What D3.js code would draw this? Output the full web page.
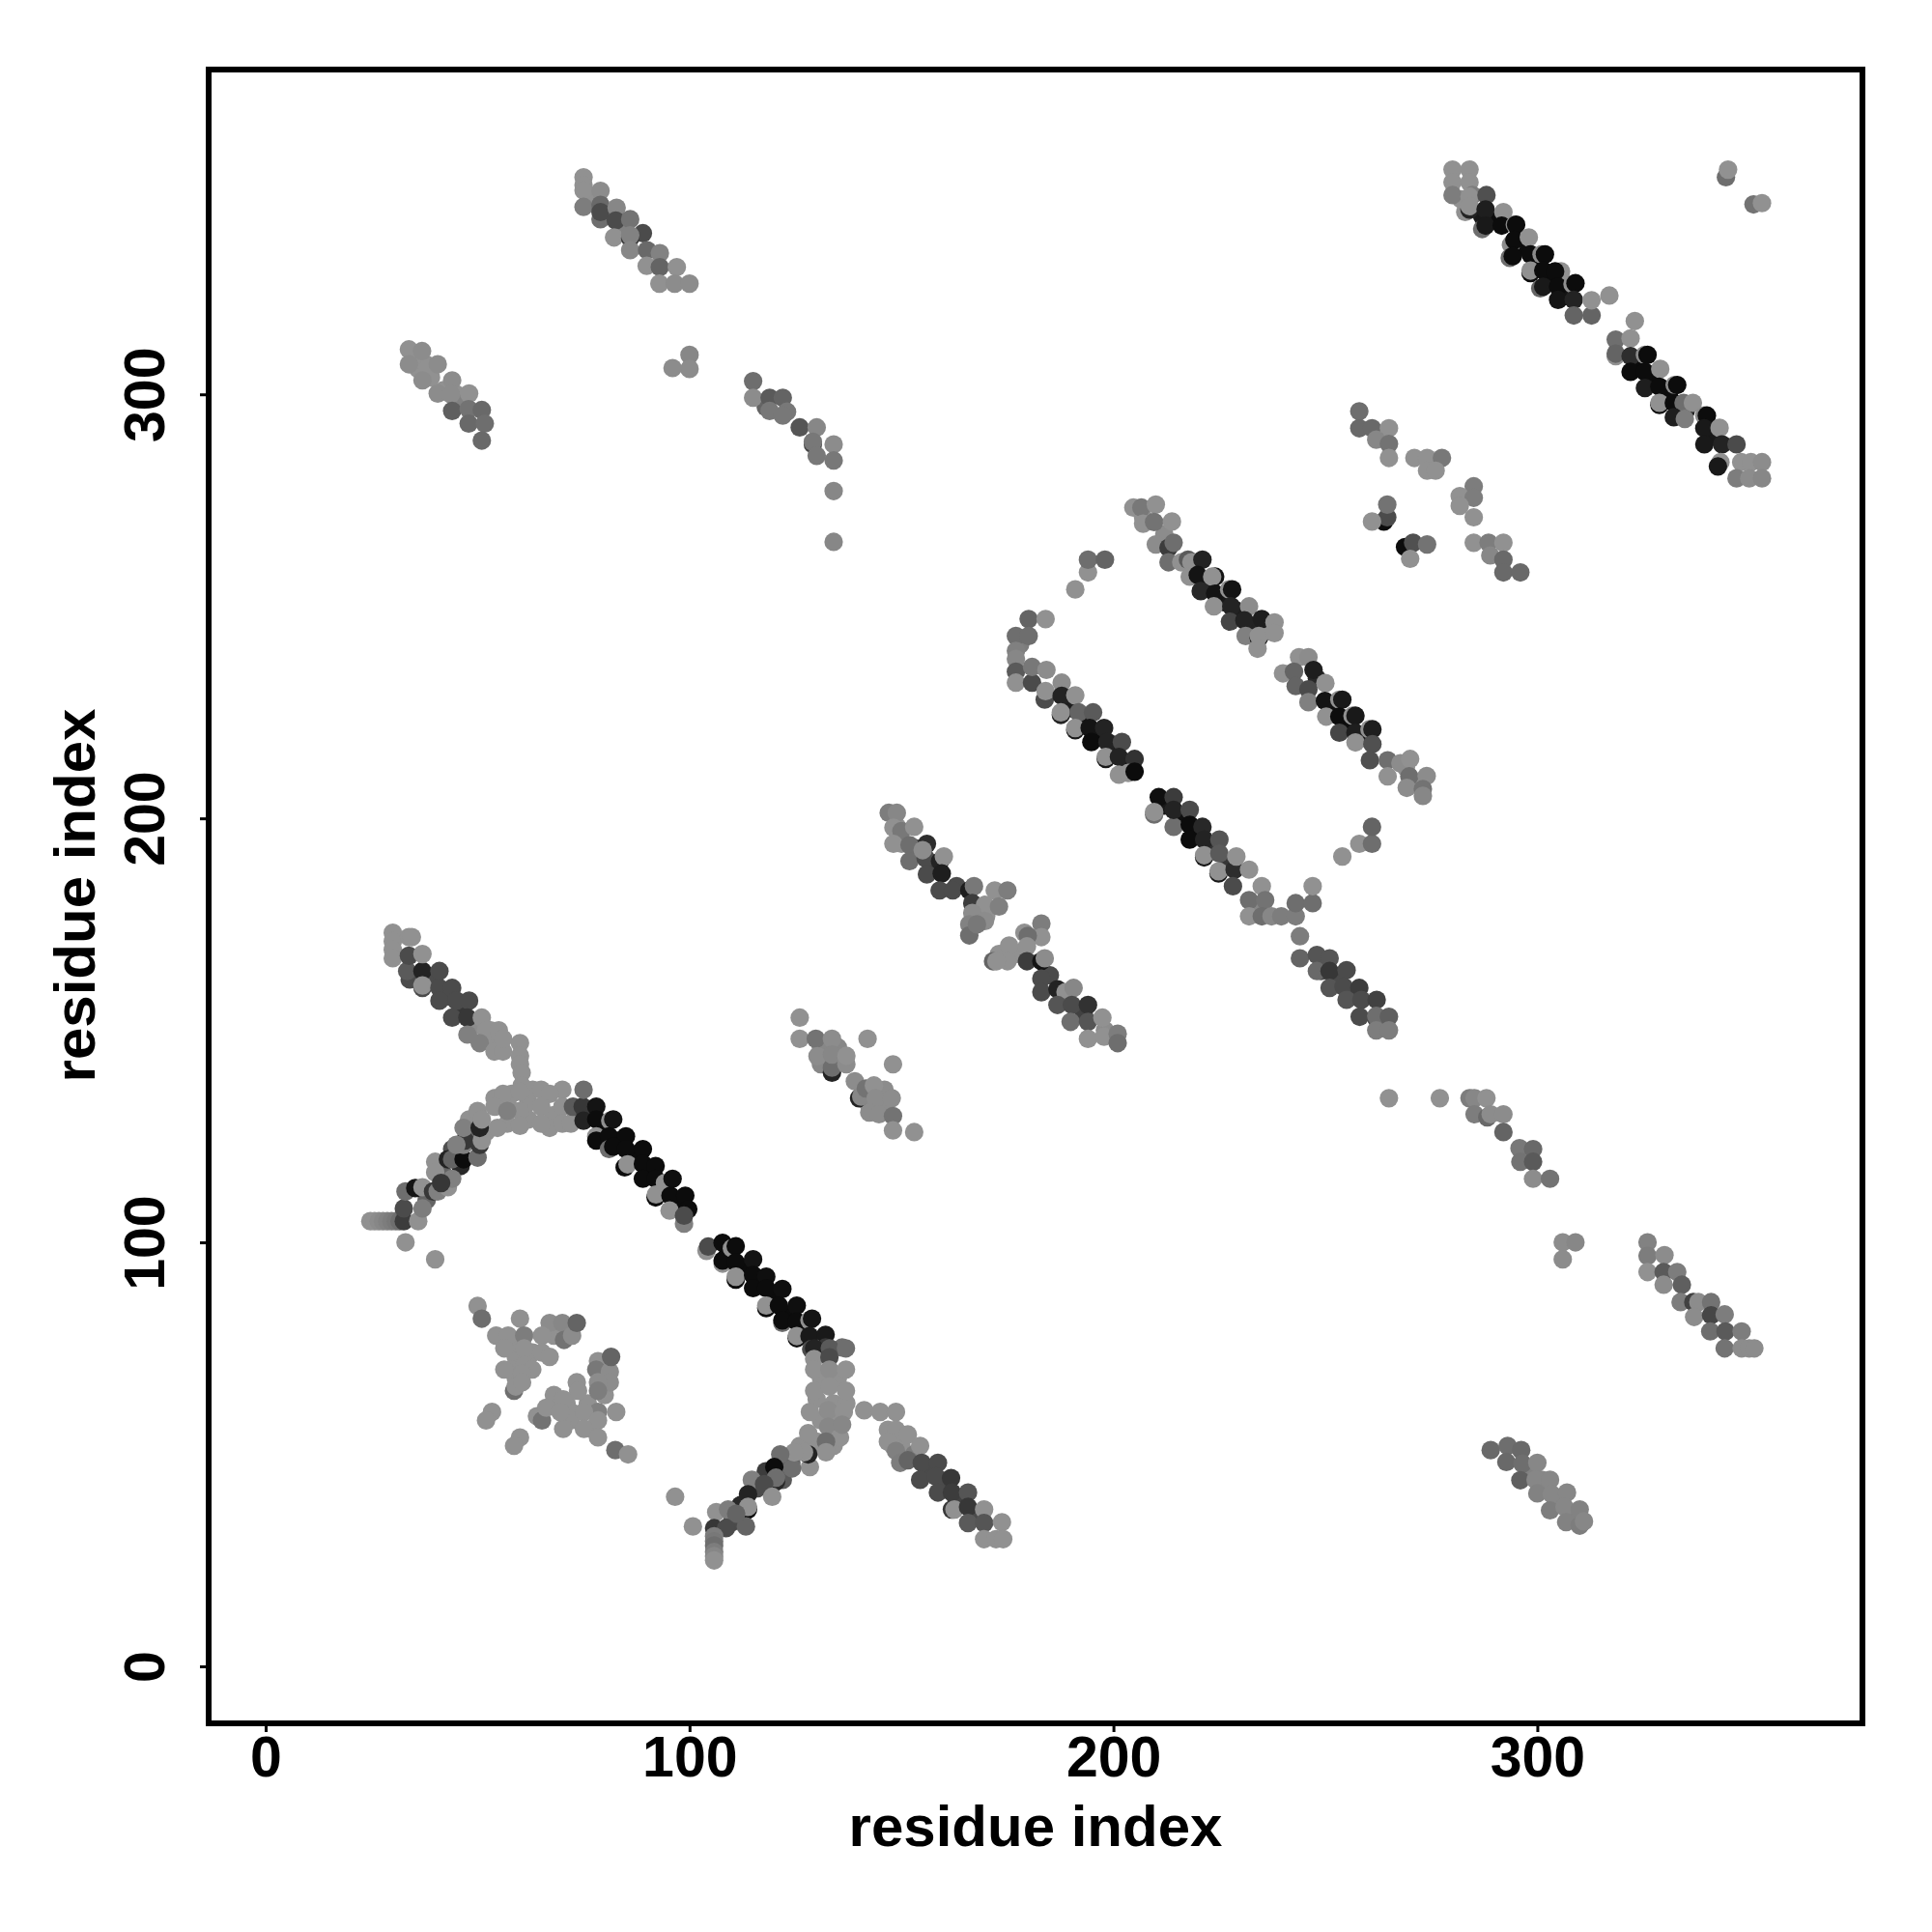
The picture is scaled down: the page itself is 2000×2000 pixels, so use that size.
<!DOCTYPE html>
<html><head><meta charset="utf-8">
<script src="https://cdn.jsdelivr.net/npm/d3@7"></script>
<style>html,body{margin:0;padding:0;background:#fff}svg{display:block}</style>
</head><body><svg id="chart" width="2000" height="2000"></svg>
<script>
// each point: [residue i, residue j, grey level]
const xTicks=[0,100,200,300];
const yTicks=[0,100,200,300];
const axisLabel="residue index";

const fillLight=[[57,133,145],[62,133,145],[68,130,145],[62,129,145],[57,128,145],[67,127,145],[48,129,145],[52,126,145],[63,136,145],[58,135,145],[73,131,145],[131,68,145],[135,68,145],[134,62,145],[130,63,145],[131,58,145],[134,52,145],[130,53,145],[137,62,145],[135,59,145],[126,52,145],[150,52,145],[153,50,125],[148,52,145],[59,73,145],[58,70,145],[59,68,145],[62,73,145],[63,74,145],[71,62,145],[68,62,145],[72,58,145],[76,62,145],[77,56,145],[80,64,145],[79,68,145],[68,64,145],[64,59,145],[72,60,145],[60,76,145],[68,78,145],[36,306,145],[39,304,145],[42,301,145],[45,300,145],[38,307,145],[46,298,130],[35,309,145],[302,42,135],[305,39,135],[308,35,130],[298,46,130],[301,44,135],[304,40,135],[135,146,135],[131,146,135],[139,138,140],[145,132,140],[146,136,140],[142,133,140],[135,143,135],[131,142,135],[146,131,140],[54,147,145],[53,150,145],[49,151,140],[77,346,145],[84,340,130],[283,343,145],[282,346,145],[178,241,125],[207,271,145],[212,267,140],[236,244,145],[269,212,145],[271,208,145],[173,168,145],[177,168,145],[170,177,145],[168,176,145],[235,178,135],[150,194,145],[149,198,145],[198,150,140]];
const fillDark=[[34,162,75],[39,162,75],[43,158,75],[46,155,55],[38,110,100],[42,116,100],[46,118,40],[48,125,100],[44,122,80],[80,127,12],[83,124,12],[87,120,12],[90,116,12],[94,113,12],[97,109,12],[109,97,12],[113,94,12],[117,90,12],[120,87,12],[124,83,12],[127,79,25],[116,42,75],[118,46,60],[122,44,90],[124,48,100],[112,38,40],[110,34,75],[156,46,75],[160,42,75],[163,39,65],[167,36,75],[290,341,12],[296,335,12],[300,331,12],[303,327,12],[306,323,20],[324,307,12],[327,303,12],[331,300,12],[335,296,35],[341,290,25],[153,193,60],[157,188,60],[163,184,75],[168,179,80],[185,163,75],[189,157,70],[193,154,65],[190,226,30],[193,223,25],[196,219,15],[200,216,30],[203,212,25],[212,203,25],[216,200,15],[220,196,20],[223,193,50],[227,189,55],[222,255,25],[226,251,25],[229,249,30],[233,245,35],[248,233,40],[252,226,15],[255,222,15],[259,219,30],[249,164,75],[253,162,75],[257,158,70],[287,342,25],[89,338,75],[118,297,100]];

const helix1Up=[[30,173,145],[30,171,145],[30,169,145],[30,167,145],[33.8,172,145],[34.5,172,145],[33.4,164,90],[33.8,167.6,75],[37,164,35],[37,160,75],[37,160.6,145],[37,168,145],[41,164,75],[41,160,75],[41,157,75],[44,160,75],[45,157,75],[48,157,75],[44,153,75],[47.6,153,55],[47.6,149,128],[51,153,145],[52,150,145],[55,150,145],[50.5,147,128],[54,145,145],[56,145,145],[56,148,145],[60,147,145],[60,144,145],[60,142,145],[60.4,140,145],[60.4,137,145]];
const helix1Mid=[[54,134,145],[56,135,145],[60,135.5,145],[65,136,145],[70,136,145],[67,135,145],[60,131,145],[65,132,145],[70,132,145],[60,127.5,145],[65,128,145],[70,128,145],[72,128,145],[50,131,145],[54,132,145],[57,131,128],[46.7,127,128],[54.7,127,145],[50.5,127,35],[51,129,145]];
const helix1Black=[[72.5,132,90],[74.8,132,55],[75,136,110],[75,128.7,35],[78,132,20],[78,129,12],[78,125,145],[81.3,128.7,145],[82,129,20],[78,124,12],[81,125,12],[81,122,110],[85,125,12],[82,122.6,12],[85,122,12],[84.7,117.7,12],[85.4,118.4,145],[89,122,12],[89,118.5,12],[89,115,12],[92,118,12],[92,115,12],[92,110.6,12],[92.1,111.3,145],[94.2,114,145],[96,115,15],[95.5,111,12],[95.3,107.5,145],[99,111,12],[99.7,107.8,12],[98.7,104.4,128],[98.7,106.3,75]];
const helix1Black2=[[104,98,145],[104.4,99,75],[107.8,99.9,12],[107.8,95,145],[107.8,95.7,12],[110,98.6,145],[110.9,99.1,12],[110.9,95.3,12],[115,96,20],[110.9,91.2,12],[110.9,91.9,145],[115,92.3,12],[118.1,91.9,15],[115,89.2,12],[118.1,89.2,12],[121.9,89,15],[118.1,84.5,12],[118.1,85.1,145],[121.1,85.1,12],[125.3,85.1,15],[121.9,81,110],[121.9,81.6,12],[125.3,81.3,12],[128.3,81.6,145],[128.9,82,20],[125.3,77.4,12],[125.3,77.9,145],[128.3,77.9,25],[132.1,78.2,25],[128.7,74.8,75],[132.1,75.2,55],[136,75.2,110]];
const helix1Low=[[33,100,145],[40,96,145],[24.7,105,145],[25.7,105,145],[26.7,105,140],[27.7,105,135],[28.7,105,130],[29.7,105,125],[30.7,105,120],[31.6,105,110],[32.6,105,60],[32.6,108,75],[33,112,110],[36,105,145],[37,108,125],[35.3,112.8,20],[37,113,145],[39.5,112,55],[40.6,112,128],[43,113,145],[44,115,128],[40,119,145],[40,116.5,145],[41.4,114,55],[43,119.6,35],[44,119.6,100],[46.7,119.6,12],[50,120,110],[46.7,123,128],[47,124,55],[50.5,123,55],[51,124,145],[45,123,128]];

const box1UpperOff=[[50,85,145],[51,82,110],[60,82,145],[67,81,140],[70,81,135],[70.4,77,115],[72.3,78,140],[73.4,81,100],[54.4,78,145],[57.2,78,145],[61,78,125],[65.2,78,145],[56.3,75,145],[61,75,145],[65.2,74,145],[67,73,145],[56.3,70,145],[61,71,145],[62.9,70,145],[60.5,69,145],[58.6,65,110],[59,66,145],[60.5,67,145],[78.4,72,145],[78,70,120],[81.2,69.5,140],[81.2,67,140],[78.4,67,140],[78.4,65,125],[81.5,73,100],[73.4,67,145],[73.7,65,145],[70.2,63,145],[53.4,60,145],[52,58,145],[82.7,60,145],[78.4,60,128],[75.1,60,145],[78.4,58,145],[75.1,56,145],[78.4,54,145],[70.2,56,145],[65.2,58,115],[66.2,61,145],[69.5,60,145],[60,54,145],[58.6,52,145],[82.5,51,110],[85.5,50,145]];

const centerColumn=[[129.4,75,35],[133.1,75,90],[129.4,72.5,145],[133,72.9,75],[129.4,70,145],[133,70,140],[136.9,70,145],[129.4,65,145],[133,66,145],[136.9,65,145],[128.4,60,145],[132.7,60.4,140],[136.4,60,145],[141.2,60.4,145],[145,60,145],[148.7,60,145],[132.7,56.5,135],[135.5,54,145],[136,57,135],[128,55,145],[132.2,53,110],[132.2,50.5,145],[136.9,75,110]];
const betaArc=[[128.4,47,145],[124.2,46.7,110],[128,50,35],[127,50.5,145],[124.7,50.5,145],[121.4,50,110],[120,47,12],[120.4,43.6,40],[120.4,44.5,110],[114.7,44,128],[117.6,43,75],[119.5,40,145],[113.8,40.6,35],[113.8,37,12],[113.8,37.6,145],[113.3,33,100],[106.3,36.4,145],[109.1,37,125],[111,36,100],[105.8,32.6,55],[108.6,32.6,75],[100.8,33,145],[96.6,40,145],[105.8,30.7,125],[105.8,29.5,120],[105.8,28.5,110],[105.8,27,125],[105.8,26,135],[105.8,25,145]];
const betaTail=[[146.8,55.8,145],[148.7,55.8,145],[151.5,54.7,145],[146.8,53,145],[154.4,52,145],[148.7,50.8,128],[149.7,48,125],[151.5,48.6,100],[154.8,48,75],[158.6,48,75],[154.4,44,75],[158.1,44.8,75],[161.7,44.4,55],[158.6,41,75],[161.9,41,60],[165.7,41,85],[161.9,37,55],[162.5,37,145],[165.7,37.6,55],[169.5,37,145],[165.7,33.8,90],[169.5,33.8,85],[173.7,34,145],[169.5,30,145],[172.3,30,145],[174,30,145]];

const midStripe1=[[147,201.3,125],[148.9,201.3,135],[148.1,197.8,145],[150,197,120],[148.1,194,145],[153,198,145],[151.9,193.7,110],[151.9,189.9,110],[156,194,45],[155.7,190.6,75],[155,192.5,140],[159.1,189.9,35],[160,191,145],[156,186.8,75],[159.5,187,30],[159,183,75],[162.1,183,75],[166,183,30],[167.1,184,120],[166.7,180,60],[172,183,145],[175,183,125],[169.7,179.6,145],[173,179.2,128],[166.7,177.7,140],[169.7,175.8,140],[166,175,130],[166,172.4,110],[167.8,175,120]];
const midStripe2=[[183,175.2,125],[183,172,145],[179,173,145],[179.8,172.3,110],[179.6,169.8,145],[175.4,170,145],[175,166.3,145],[171.6,166.3,100],[172.4,166.3,145],[179.6,166.3,60],[183,166.3,20],[183.8,167,140],[183,162.2,75],[183,159,75],[186.8,159.7,35],[188.7,159,145],[190.6,160,135],[186.8,156,85],[190.2,156,75],[194,156,50],[189.9,152,110],[194,152,85],[197.4,153,145],[194,148,145],[197.8,148.5,145],[201,149.2,125],[201,147,110]];

const stripeAupper=[[180,247,100],[184,247,145],[177,243,110],[180,243,110],[177,239.5,128],[177,237.6,135],[177,234.6,90],[177,232,145],[180.8,232,75],[180.8,235.7,120],[184.2,235,140],[183.8,228,75],[184,230,145],[187.8,232,140],[187.8,228.9,35],[187.6,224.4,35],[187.6,225,145],[191,229,145],[191.8,225,100],[195.2,225,90],[191,220.8,25],[191,221.3,145],[194.4,221.3,20],[197.8,221.3,35],[194.8,218,12],[198.6,218,35],[202,218,75],[198.2,214,25],[198.2,214.5,145],[201.3,214.5,35],[205,214,50],[201.3,210.3,145],[203.5,210.7,145],[205,211,12]];
const stripeAlower=[[210.7,205,15],[214.2,205,60],[209.6,200.9,110],[209.6,201.5,145],[214.2,198,110],[214.2,202,35],[218,202,75],[218,198.5,12],[221,198,40],[218,195,12],[221.4,195,35],[225,195,85],[221.4,190.8,25],[221.4,191.3,145],[225,191.7,90],[224.8,187,25],[224.8,187.5,145],[228.6,187.9,45],[229,191,145],[232,187.9,145],[228.2,184,75],[235,184,145],[232,180.7,110],[235.8,180.7,115],[232,176.9,145],[235,176.9,110],[237.3,176.9,135],[239.6,176.9,125],[243,176.9,125],[243,180,110],[247,180,110],[247,184,145]];
const stripeAoff=[[191,254,145],[194,258,145],[194,261,110],[198,261,100],[254,191,145],[258,194,145],[261,194,110],[261,198,100],[244,172.2,125],[265,134,145],[277,134,145]];
const stripeAtail=[[244,167,100],[248,167.8,85],[251,167,85],[248,164,105],[251,164,55],[255,164.2,75],[251,160,85],[254.3,160.3,75],[258,160,60],[255,157.2,85],[258.5,157.2,75],[262.1,157.2,65],[258.1,153.2,75],[262,152.8,75],[262,153.4,110],[265,153.2,95],[262,150,125],[265,150,125]];

const stripeBupper=[[204.7,273.3,145],[206.6,273.3,120],[210,274,145],[207,269.5,145],[209.6,269.9,115],[213.8,270,145],[210,264.6,140],[213,263.8,60],[214.2,265,110],[213,260.4,110],[216,260.4,145],[217.6,261,90],[218.4,260.4,145],[221,261,35],[218,257,145],[219.9,257.4,20],[224,257,20],[220.6,253.6,40],[223.3,257,145],[224,253,20],[227.3,254,145],[228,254,20],[223.7,250,145],[227.8,250,35],[232,250,140],[227.5,246.4,70],[230.9,246.7,35],[235,247,30],[238,246.2,145],[231.2,243,128],[234.3,242.5,20],[234.3,243,145],[238,243.7,145],[234,240,145]];
const stripeBlower=[[240,234.2,145],[243.8,238,145],[246,238,140],[242.6,234.6,100],[247.2,235,30],[243,231.2,100],[246,230.4,75],[250,231.9,145],[246,227.4,128],[249.9,227.7,20],[253.3,228,145],[254,228,25],[250.2,224,145],[253.3,224,12],[256.4,224.2,145],[257.1,224.2,25],[253.3,220.2,70],[257.1,220.2,30],[260.4,221,145],[261.1,221,30],[257.1,217.9,145],[261.1,217.5,80],[260.5,213.7,80],[264.7,213.7,110],[267.7,213,140],[270,214,145],[264.7,209.9,145],[269.8,209.9,110],[273.9,210,140],[269.2,207.2,140],[273,206.9,115],[273,205.3,135]];

const clusterTopMid=[[258,296,110],[258,292,105],[261,292,105],[265,292,145],[262,289.3,135],[265,288.3,115],[265,285,145],[271,285,145],[274,285,145],[277.5,285,120],[274,282,145],[276,282,145],[285,278.3,125],[281.7,276,145],[285,275.6,125],[281.7,273.7,145],[285,271,145],[263.8,270,12],[264.6,271,75],[264.6,274,115],[261,270,145],[268.8,264,12],[270.7,265,80],[274,264.6,115],[270,261.2,145],[285,265,145],[288.5,265,125],[292,265,145],[288.9,262,135],[292,261,105],[292,258,105],[296,258,105]];

const topRightA=[[280,353,145],[284,353,145],[280,350,145],[284,350,145],[280,347,125],[284,343.6,35],[284.7,347,125],[284,346.6,145],[284,344.4,145],[288,347,80],[287,339,110],[287.8,343.6,30],[287.8,339.8,25],[292,343,145],[291.6,339.8,12],[293.8,335.3,140],[294.7,340,140],[295,340,12],[294.6,336.4,12],[298,337,145],[293.5,332.2,110],[294.2,332.6,12],[298.4,333,12],[301,333,140],[301.8,333,12],[298.4,328.6,12],[298.4,329.2,145],[301.4,329.2,12],[305.6,329,145],[304.2,329,12],[300.7,325,100],[301.4,325.4,25],[304.9,325.4,12],[308.3,326,145],[309,326.2,12],[304.9,322.3,20],[308.6,322.3,35],[308.6,318.6,100],[312.8,318.6,100],[312.8,322.2,145],[317,323.3,145]];
const topRightB=[[323,317.3,145],[318.5,312.9,110],[318.5,309,145],[318.5,309.6,100],[322,313.2,145],[322,309,45],[325.4,309.3,140],[326,309.3,12],[322,305.3,12],[325.4,305.3,12],[329,306,145],[325.4,301.5,30],[328.8,301.8,12],[332.4,302.2,140],[333,302.2,12],[328.8,297.5,12],[328.8,298,145],[332.2,298,12],[334.5,298,110],[336.7,298,145],[332.2,294.6,30],[334.8,294.2,125],[339.4,295,140],[340,295,12],[339.4,292,25],[343,292.1,145],[339.4,288.2,25],[343.6,288.2,35],[343.2,284,145],[342.6,283,25],[347,288.2,75],[348.1,284,145],[350.4,284,145],[353,284,140],[347,280.2,125],[350,280.2,140],[353,280.2,135],[344.5,351.2,110],[345,353,145],[351,344.8,115],[353,345.1,145]];

const cornerTop=[[75,351.2,145],[75,349.3,145],[75,348.1,145],[75,344.2,125],[79,348,140],[79,344.7,105],[79,341.3,110],[79,343,75],[82.8,344,135],[82.6,341,75],[82.2,337,145],[86,341.3,115],[86,336.8,55],[86,337.5,130],[86,334,135],[90,334,105],[93,333.3,130],[89.9,330.3,145],[93,330,100],[92.9,326.1,145],[97,330,145],[96.5,326.1,140],[100,326.1,140],[100,309.3,135],[100,306,140],[96,306.2,140]];
const cornerLeft=[[33.8,310.6,145],[36.9,310.2,140],[33.8,307.1,140],[40.6,307.1,140],[37,303.3,140],[44,303.3,140],[40.6,300.2,140],[43.7,300,140],[48,300.2,145],[44,296.1,95],[47.9,296.5,115],[51,296.3,105],[47.9,293.1,105],[51.7,293.1,110],[51,289.1,105]];
const cornerRight=[[115,303.1,110],[115,299.2,140],[118.9,299.2,90],[122,299.2,100],[118.9,296.1,120],[123,295.9,120],[122,295,120],[126,292.2,85],[130,292.2,135],[129.1,288.2,70],[129.1,288.8,120],[130,285.5,120],[134,288.2,140],[134,284.4,120],[134,277.2,135],[134,265.2,135]];
const lowerRight1=[[284,134,125],[285.2,134,135],[288,134,145],[285.2,130.2,125],[288.2,129.5,105],[289,130.2,140],[292,130.2,140],[292,126,100],[295.8,122.2,120],[299,122,105],[296,119,115],[299,119,90],[299,115,140],[303,115,115]];
const lowerRight2=[[306,100,140],[309,100,135],[306,96,140],[326,100,130],[326,96.8,125],[326,93,145],[330,97,140],[329.8,93,90],[333,93,125],[329.8,90,140],[334.1,90,95],[333.8,85.9,125],[336.8,85.9,65],[338,85.9,140],[341,85.9,115],[337,82.4,140],[341,82.8,70],[344.2,83,125],[340.8,79,110],[344.4,79,90],[348.2,79,125],[344.2,75,115],[348.2,75,140],[350,75,140],[351.2,75,140]];
const lowerRight3=[[289,51,105],[293,52,110],[296.2,51,105],[292.7,48.2,105],[296.5,47.8,110],[300,48,135],[296,43.9,95],[299.6,44,135],[303,44,135],[300,40.8,130],[303.4,40.6,135],[307,41,135],[303,36.8,125],[306.4,37.6,135],[310,37,130],[306.8,34,130],[310,33.2,125],[311,34.2,135]];
const clusterMid=[[126,153,145],[126,148,145],[129.8,148,115],[133.6,148,140],[142,148,145],[130.2,143.9,140],[133.6,140,35],[133.6,141.2,110],[133.6,144.3,135],[137,142,140],[137,144,145],[148,142,145],[140,134,35],[140.5,134.4,135],[141.6,136.3,115],[143.5,137,145],[143.9,134,140],[147.7,134,140],[142.4,130.6,140],[144.7,130.2,140],[148,129.8,115],[148,126.4,145],[153,126,145]];

const clusters=[fillLight,fillDark,helix1Low,helix1Up,helix1Mid,helix1Black,helix1Black2,box1UpperOff,centerColumn,betaArc,betaTail,midStripe1,midStripe2,stripeAupper,stripeAlower,stripeAoff,stripeAtail,stripeBupper,stripeBlower,clusterTopMid,topRightA,topRightB,cornerTop,cornerLeft,cornerRight,lowerRight1,lowerRight2,lowerRight3,clusterMid];

const svg=d3.select("#chart");
const left=216,right=1928,top_=72,bottom=1784;
const x=d3.scaleLinear().domain([-13.44,376.7]).range([left,right]);
const y=d3.scaleLinear().domain([-13.44,376.6]).range([bottom,top_]);
const FONT='"Liberation Sans",Arial,sans-serif';

const pts=svg.append("g");
clusters.forEach(c=>{
  pts.selectAll(null).data(c).enter().append("circle")
    .attr("cx",d=>x(d[0])).attr("cy",d=>y(d[1])).attr("r",9.6)
    .attr("fill",d=>d3.rgb(d[2],d[2],d[2]).formatHex());
});

svg.append("rect").attr("x",left).attr("y",top_).attr("width",right-left).attr("height",bottom-top_)
  .attr("fill","none").attr("stroke","#000").attr("stroke-width",6);

const gx=svg.append("g").attr("transform",`translate(0,${bottom})`)
  .call(d3.axisBottom(x).tickValues(xTicks).tickSize(9).tickPadding(0).tickFormat(d3.format("d")));
gx.select(".domain").remove();
gx.selectAll("line").attr("stroke","#000").attr("stroke-width",3);
gx.selectAll("text").attr("dy",null).attr("y",55).style("font",`bold 59px ${FONT}`).attr("fill","#000");

const gy=svg.append("g").attr("transform",`translate(${left},0)`)
  .call(d3.axisLeft(y).tickValues(yTicks).tickSize(9).tickPadding(0).tickFormat(d3.format("d")));
gy.select(".domain").remove();
gy.selectAll("line").attr("stroke","#000").attr("stroke-width",3);
gy.selectAll("text").attr("dy",null).attr("x",null).attr("y",null)
  .attr("text-anchor","middle").attr("transform","translate(-46,0) rotate(-90)")
  .style("font",`bold 59px ${FONT}`).attr("fill","#000");

svg.append("text").text(axisLabel).attr("x",1072).attr("y",1911).attr("text-anchor","middle")
  .style("font",`bold 60px ${FONT}`).attr("fill","#000");
svg.append("text").text(axisLabel).attr("transform","translate(98,927) rotate(-90)").attr("text-anchor","middle")
  .style("font",`bold 60px ${FONT}`).attr("fill","#000");
</script></body></html>
